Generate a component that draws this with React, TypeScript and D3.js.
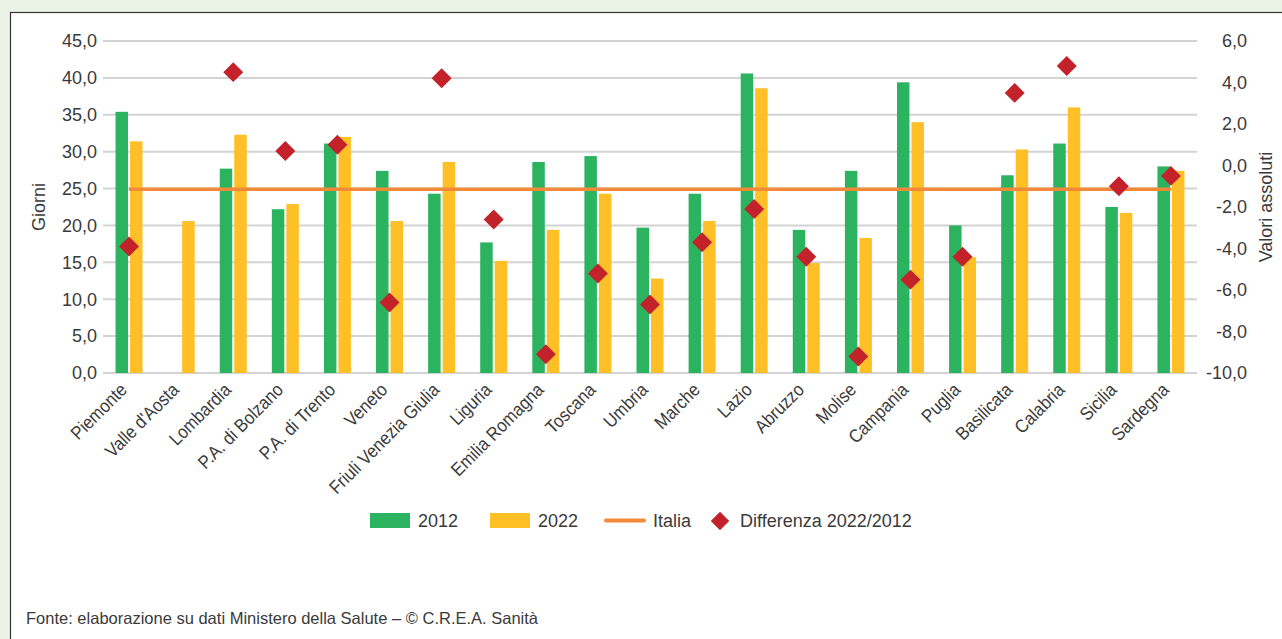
import React from "react";
import * as d3 from "d3";

const categories = ["Piemonte", "Valle d'Aosta", "Lombardia", "P.A. di Bolzano", "P.A. di Trento", "Veneto", "Friuli Venezia Giulia", "Liguria", "Emilia Romagna", "Toscana", "Umbria", "Marche", "Lazio", "Abruzzo", "Molise", "Campania", "Puglia", "Basilicata", "Calabria", "Sicilia", "Sardegna"];
const values2012: (number | null)[] = [35.4, null, 27.7, 22.2, 31.1, 27.4, 24.3, 17.7, 28.6, 29.4, 19.7, 24.3, 40.6, 19.4, 27.4, 39.4, 20.0, 26.8, 31.1, 22.5, 28.0];
const values2022: (number | null)[] = [31.4, 20.6, 32.3, 22.9, 32.0, 20.6, 28.6, 15.2, 19.4, 24.3, 12.8, 20.6, 38.6, 14.9, 18.3, 34.0, 15.7, 30.3, 36.0, 21.7, 27.4];
const differenza: (number | null)[] = [-3.9, null, 4.5, 0.7, 1.0, -6.6, 4.2, -2.6, -9.1, -5.2, -6.7, -3.7, -2.1, -4.4, -9.2, -5.5, -4.4, 3.5, 4.8, -1.0, -0.5];
const italia = 24.9;
const leftTicks = [0, 5, 10, 15, 20, 25, 30, 35, 40, 45];
const rightTicks = [-10, -8, -6, -4, -2, 0, 2, 4, 6];
const seriesNames = ["2012", "2022"];

const W = 1282;
const H = 639;
const FONT = "'Liberation Sans', Arial, sans-serif";
const TEXT = "#3a3a3a";
const GREEN = "#2bb35f";
const YELLOW = "#ffbf27";
const ORANGE = "#f28a3a";
const RED = "#c4222a";
const GRID = "#d3d3d3";

const fmt = (v: number) => v.toFixed(1).replace(".", ",");

export default function App() {
  const x = d3.scaleBand<string>().domain(categories).range([103, 1197]).padding(0);
  const bw = x.bandwidth();
  const inner = d3.scaleBand<string>().domain(seriesNames).range([bw / 2 - 13.5, bw / 2 + 13.5]).paddingInner(0.14).paddingOuter(0);
  const yL = d3.scaleLinear().domain([0, 45]).range([373, 41]);
  const yR = d3.scaleLinear().domain([-10, 6]).range([373, 41]);
  const diamond = d3.symbol().type(d3.symbolSquare).size(200)();
  const diamondLeg = d3.symbol().type(d3.symbolSquare).size(170)();
  const cx = (c: string) => (x(c) as number) + bw / 2;

  const series = [
    { name: "2012", vals: values2012, color: GREEN },
    { name: "2022", vals: values2022, color: YELLOW },
  ];

  return (
    <svg width={W} height={H} style={{ position: "absolute", left: 0, top: 0, display: "block" }} fontFamily={FONT}>
      <rect x={0} y={0} width={W} height={H} fill="#ebf3e7" />
      <rect x={10.5} y={12.5} width={W} height={H} fill="#ffffff" stroke="#333" strokeWidth={1.2} />

      {/* gridlines */}
      {leftTicks.map((t) => (
        <line key={"g" + t} x1={103} x2={1197} y1={yL(t)} y2={yL(t)} stroke={GRID} strokeWidth={2} />
      ))}

      {/* left ticks */}
      {leftTicks.map((t) => (
        <text key={"l" + t} x={97} y={yL(t)} dy="0.35em" textAnchor="end" fontSize={18} fill={TEXT}>{fmt(t)}</text>
      ))}
      {/* right ticks */}
      {rightTicks.map((t) => (
        <text key={"r" + t} x={1247} y={yR(t)} dy="0.35em" textAnchor="end" fontSize={18} fill={TEXT}>{fmt(t)}</text>
      ))}

      <text transform={`translate(45,207) rotate(-90)`} textAnchor="middle" fontSize={18} fill={TEXT}>Giorni</text>
      <text transform={`translate(1272,207) rotate(-90)`} textAnchor="middle" fontSize={18} fill={TEXT}>Valori assoluti</text>

      {/* bars */}
      {series.map((s) =>
        categories.map((c, i) => {
          const v = s.vals[i];
          if (v == null) return null;
          return (
            <rect key={s.name + c} x={(x(c) as number) + (inner(s.name) as number)} y={yL(v)} width={inner.bandwidth()} height={yL(0) - yL(v)} fill={s.color} />
          );
        })
      )}

      {/* Italia line */}
      <line x1={cx(categories[0])} x2={cx(categories[categories.length - 1])} y1={yL(italia)} y2={yL(italia)} stroke={ORANGE} strokeWidth={3.5} />

      {/* diamonds */}
      {categories.map((c, i) => {
        const v = differenza[i];
        if (v == null) return null;
        return <path key={"d" + c} d={diamond as string} transform={`translate(${cx(c)},${yR(v)}) rotate(45)`} fill={RED} />;
      })}

      {/* category labels */}
      {categories.map((c) => (
        <text key={"c" + c} transform={`translate(${cx(c) - 1},${391}) rotate(-45) scale(0.9,1)`} textAnchor="end" fontSize={18.5} fill={TEXT}>{c}</text>
      ))}

      {/* legend */}
      <rect x={370} y={513} width={40} height={15} fill={GREEN} />
      <text x={418} y={521} dy="0.35em" fontSize={18} fill={TEXT}>2012</text>
      <rect x={490} y={513} width={40} height={15} fill={YELLOW} />
      <text x={538} y={521} dy="0.35em" fontSize={18} fill={TEXT}>2022</text>
      <line x1={606} x2={644} y1={520.5} y2={520.5} stroke={ORANGE} strokeWidth={4} strokeLinecap="round" />
      <text x={653} y={521} dy="0.35em" fontSize={18} fill={TEXT}>Italia</text>
      <path d={diamondLeg as string} transform={`translate(720,521) rotate(45)`} fill={RED} />
      <text x={740} y={521} dy="0.35em" fontSize={18} fill={TEXT}>Differenza 2022/2012</text>

      <text x={26} y={624} fontSize={16.5} fill={TEXT}>Fonte: elaborazione su dati Ministero della Salute – © C.R.E.A. Sanità</text>
    </svg>
  );
}
